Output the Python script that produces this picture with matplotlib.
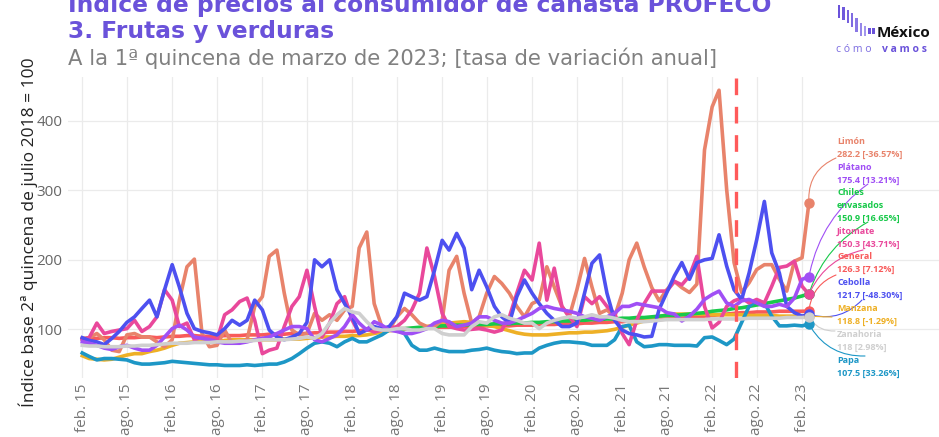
import matplotlib
matplotlib.use("Agg")
import matplotlib.pyplot as plt
from matplotlib.patches import Rectangle
import pandas as pd

plt.rcParams['font.family'] = ['Open Sans', 'DejaVu Sans']

# ---------- DATA (monthly, feb 2015 - mar 2023) ----------
dates = pd.date_range("2015-02-01", "2023-03-01", freq="MS")

limon = [87, 88, 94, 85, 70, 68, 92, 94, 89, 89, 82, 75,
         85, 142, 190, 201, 94, 75, 77, 99, 80, 82, 85, 133,
         147, 205, 214, 152, 99, 92, 94, 123, 113, 121, 113, 128,
         133, 217, 240, 137, 104, 99, 118, 130, 121, 109, 104, 104,
         113, 185, 205, 152, 109, 118, 152, 176, 166, 152, 133, 118,
         137, 142, 190, 161, 133, 118, 157, 202, 161, 123, 128, 118,
         152, 200, 224, 190, 160, 141, 157, 169, 160, 153, 165, 358,
         420, 444, 301, 196, 153, 167, 186, 193, 193, 172, 155, 198,
         203, 282.2]

cebolla = [88, 84, 82, 78, 87, 97, 110, 118, 130, 142, 118, 157,
           193, 161, 123, 101, 97, 95, 92, 101, 113, 106, 113, 142,
           128, 99, 89, 85, 89, 94, 110, 200, 190, 200, 157, 137,
           118, 94, 99, 104, 101, 104, 118, 152, 147, 142, 147, 185,
           228, 214, 238, 217, 157, 185, 161, 133, 118, 109, 147, 171,
           152, 137, 123, 113, 104, 104, 109, 152, 195, 207, 152, 113,
           99, 94, 92, 89, 90, 129, 153, 177, 196, 172, 196, 200,
           202, 236, 191, 157, 143, 181, 229, 284, 210, 181, 133, 124,
           119, 121.7]

jitomate = [85, 88, 109, 94, 97, 99, 101, 113, 97, 104, 118, 157,
            142, 104, 109, 85, 89, 87, 85, 121, 128, 140, 145, 113,
            65, 70, 73, 104, 133, 147, 185, 133, 89, 109, 137, 147,
            113, 94, 101, 96, 99, 101, 104, 113, 128, 152, 217, 176,
            123, 104, 101, 99, 100, 101, 99, 96, 99, 118, 152, 185,
            171, 224, 142, 188, 133, 118, 104, 147, 137, 147, 133, 123,
            94, 78, 113, 137, 155, 155, 155, 169, 164, 177, 205, 133,
            102, 110, 133, 141, 145, 138, 143, 138, 162, 189, 191, 198,
            162, 150.3]

platano = [82, 80, 77, 73, 71, 75, 77, 73, 70, 70, 77, 89,
           101, 106, 99, 89, 87, 85, 82, 80, 80, 80, 82, 85,
           87, 89, 94, 99, 104, 104, 101, 85, 82, 87, 92, 104,
           121, 109, 99, 111, 106, 99, 97, 94, 94, 97, 101, 109,
           113, 111, 104, 106, 109, 118, 118, 113, 109, 109, 113, 118,
           123, 130, 133, 130, 128, 126, 123, 118, 116, 113, 118, 123,
           133, 133, 137, 135, 133, 131, 124, 122, 112, 119, 129, 143,
           150, 155, 138, 133, 141, 143, 138, 133, 133, 136, 133, 145,
           172, 175.4]

general = [86, 87, 87, 88, 88, 87, 88, 88, 89, 89, 88, 89,
           90, 90, 91, 91, 90, 90, 90, 91, 91, 91, 92, 92,
           92, 93, 93, 93, 94, 94, 94, 95, 95, 96, 96, 97,
           97, 98, 99, 99, 100, 100, 101, 101, 101, 102, 102, 103,
           103, 103, 104, 104, 104, 104, 105, 105, 105, 105, 106, 106,
           106, 107, 107, 107, 108, 108, 108, 109, 109, 110, 110, 111,
           111, 112, 112, 113, 113, 114, 115, 115, 116, 117, 118, 119,
           120, 121, 122, 123, 124, 124, 125, 125, 125, 126, 126, 126,
           126, 126.3]

manzana = [62, 58, 57, 56, 57, 60, 63, 65, 65, 68, 70, 73,
           77, 80, 81, 82, 82, 82, 82, 84, 85, 85, 85, 85,
           85, 85, 85, 86, 86, 86, 87, 88, 89, 89, 90, 90,
           91, 91, 92, 94, 96, 98, 99, 100, 101, 102, 104, 106,
           108, 109, 110, 111, 110, 108, 106, 104, 101, 98, 95, 93,
           92, 92, 92, 93, 94, 95, 95, 96, 96, 97, 98, 100,
           103, 106, 109, 112, 115, 118, 121, 122, 122, 122, 122, 122,
           121, 121, 121, 121, 121, 120, 120, 120, 120, 119, 119, 119,
           119, 118.8]

zanahoria = [77, 76, 76, 75, 75, 75, 76, 76, 77, 77, 78, 79,
             80, 80, 80, 81, 81, 81, 82, 82, 82, 83, 83, 84,
             85, 85, 85, 85, 86, 87, 89, 87, 94, 109, 121, 130,
             125, 123, 111, 101, 99, 99, 101, 101, 99, 99, 101, 101,
             94, 92, 92, 92, 104, 111, 109, 118, 121, 116, 113, 109,
             109, 101, 109, 113, 116, 118, 116, 118, 121, 118, 118, 116,
             113, 111, 111, 111, 112, 113, 114, 114, 114, 114, 114, 114,
             115, 115, 115, 115, 115, 116, 116, 116, 116, 116, 117, 117,
             117, 118]

papa = [66, 61, 56, 58, 58, 57, 56, 52, 50, 50, 51, 52,
        54, 53, 52, 51, 50, 49, 49, 48, 48, 48, 49, 48,
        49, 50, 50, 53, 58, 65, 73, 80, 82, 80, 75, 82,
        87, 82, 82, 87, 92, 99, 99, 94, 77, 70, 70, 73,
        70, 68, 68, 68, 70, 71, 73, 70, 68, 67, 65, 66,
        66, 73, 77, 80, 82, 82, 81, 80, 77, 77, 77, 85,
        104, 106, 82, 75, 76, 78, 78, 77, 77, 77, 76, 88,
        89, 84, 78, 86, 110, 133, 141, 138, 119, 105, 105, 106,
        105, 107.5]

# chiles envasados only from jul 2018
chiles = [100, 101, 101, 102, 103, 103, 104,
          105, 105, 106, 106, 107, 107, 107, 108, 108, 108, 109, 109,
          110, 110, 111, 111, 112, 112, 113, 113, 114, 114, 115, 115,
          116, 116, 117, 117, 118, 119, 120, 120, 121, 122, 123, 124,
          126, 127, 128, 130, 131, 133, 135, 137, 139, 141, 143, 145,
          148, 150.9]

# label info (ordered as in the right-hand labels)
names = ["Limón", "Plátano", "Chiles\nenvasados", "Jitomate", "General",
         "Cebolla", "Manzana", "Zanahoria", "Papa"]
series = [limon, platano, chiles, jitomate, general, cebolla, manzana, zanahoria, papa]
pct = ["-36.57%", "13.21%", "16.65%", "43.71%", "7.12%", "-48.30%", "-1.29%", "2.98%", "33.26%"]
colors = ["#E8836B", "#A04FF5", "#18C94A", "#E9489B", "#F85A5A",
          "#4D50F0", "#EEB026", "#CFCFCF", "#1D97C6"]

# ---------- FIGURE ----------
W, H = 939, 437
fig = plt.figure(figsize=(W / 100, H / 100), dpi=100)
ax = fig.add_axes([68 / W, 1 - 378 / H, (W - 68) / W, (378 - 77) / H])

draw_order = [4, 6, 2, 8, 0, 3, 5, 1, 7]
for k in draw_order:
    vals = series[k]
    x = dates[-len(vals):]
    ax.plot(x, vals, color=colors[k], lw=2.6, solid_joinstyle="round", zorder=3)
    ax.plot([x[-1]], [vals[-1]], "o", ms=6.5, color=colors[k], zorder=4)

# cutoff line
ax.axvline(pd.Timestamp("2022-05-08"), color="#FF5A5A", lw=2.4, ls=(0, (5, 3.5)), zorder=5)

ax.set_ylim(30, 463)
ax.set_xlim(pd.Timestamp("2014-12-05"), pd.Timestamp("2024-08-10"))
ax.set_yticks([100, 200, 300, 400])
ticks = pd.date_range("2015-02-01", "2023-02-01", freq="6MS")
ax.set_xticks(ticks)
meses = {2: "feb.", 8: "ago."}
ax.set_xticklabels([f"{meses[t.month]} {t.strftime('%y')}" for t in ticks], rotation=90)
ax.tick_params(axis="x", colors="#777777", labelsize=11, length=0, pad=4)
ax.tick_params(axis="y", colors="#666666", labelsize=11, length=0, pad=4)
ax.grid(True, color="#EBEBEB", lw=0.9)
ax.set_axisbelow(True)
for s in ax.spines.values():
    s.set_visible(False)

# ---------- RIGHT LABELS ----------
label_top = [137, 163, 188, 227, 252, 278, 304, 330, 356]
conn_end = [(836, 158), (868, 184), (868, 222), (863, 250), (836, 275),
            (862, 300), (832, 317), (835, 331), (865, 356)]
conn_rad = [0.35, 0.2, 0.2, 0.25, 0.3, -0.3, 0.0, -0.3, -0.3]
for k in range(len(names)):
    vals = series[k]
    txt = f"{names[k]}\n{vals[-1]:g} [{pct[k]}]"
    fig.text(837 / W, 1 - label_top[k] / H, txt, color=colors[k], fontsize=6.5,
             fontweight="bold", va="top", ha="left", linespacing=1.55)
    ex, ey = conn_end[k]
    ax.annotate("", xy=(dates[-1], vals[-1]), xytext=(ex, H - ey), textcoords="figure pixels",
                arrowprops=dict(arrowstyle="-", color=colors[k], lw=0.8, shrinkA=0, shrinkB=3,
                                connectionstyle=f"arc3,rad={conn_rad[k]}"), zorder=2)

# ---------- TITLES ----------
title_font = ['DejaVu Sans']
fig.text(68 / W, 1 - 12 / H, "Índice de precios al consumidor de canasta PROFECO",
         color="#6A52DA", fontsize=16.8, fontweight="bold", va="baseline", family=title_font)
fig.text(68 / W, 1 - 38 / H, "3. Frutas y verduras",
         color="#6A52DA", fontsize=16.8, fontweight="bold", va="baseline", family=title_font)
fig.text(68 / W, 1 - 65 / H, "A la 1ª quincena de marzo de 2023; [tasa de variación anual]",
         color="#808080", fontsize=15.2, va="baseline", family=title_font)
fig.text(28 / W, 1 - 232 / H, "Índice base 2ª quincena de julio 2018 = 100",
         rotation=90, fontsize=12.5, color="#222222", va="center", ha="center")

# ---------- LOGO ----------
bar_tops = [5, 7, 10, 13, 18, 23, 26, 28, 28]
bar_bots = [18, 20, 23, 27, 32, 36, 36, 34, 34]
bar_cols = ["#6A52DA", "#6F5ADC", "#7661DE", "#7F6BE1", "#8A78E5", "#9687E9", "#A296EC", "#6A52DA", "#6A52DA"]
for j in range(len(bar_tops)):
    bx = 838 + j * 4.3
    fig.add_artist(Rectangle((bx / W, 1 - bar_bots[j] / H), 2.4 / W, (bar_bots[j] - bar_tops[j]) / H,
                             transform=fig.transFigure, color=bar_cols[j], lw=0))
fig.text(877 / W, 1 - 37 / H, "México", fontsize=11, fontweight="bold", color="#111111", va="baseline")
fig.text(836 / W, 1 - 52 / H, "c ó m o", fontsize=7.5, color="#7A6AE0", va="baseline")
fig.text(882 / W, 1 - 52 / H, "v a m o s", fontsize=7.5, fontweight="bold", color="#6A52DA", va="baseline")

fig.savefig("out.png", dpi=100)
